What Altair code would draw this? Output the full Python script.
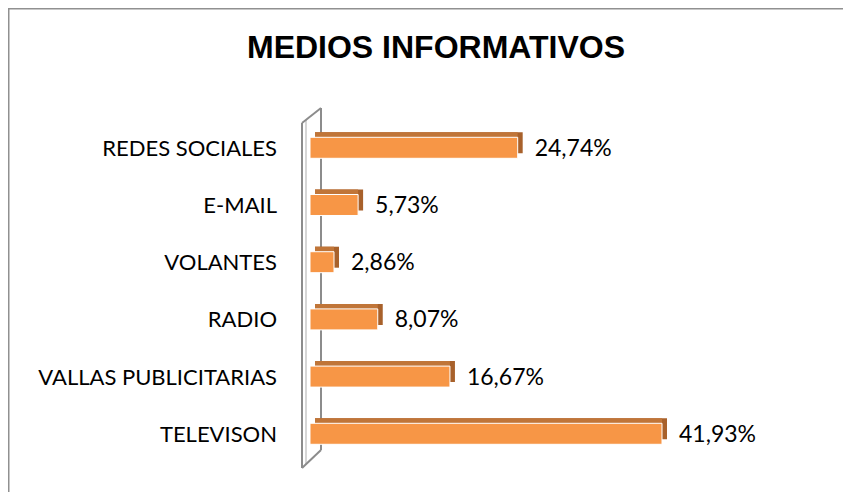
import altair as alt
import pandas as pd

categories = ["REDES SOCIALES", "E-MAIL", "VOLANTES", "RADIO", "VALLAS PUBLICITARIAS", "TELEVISON"]
values = [24.74, 5.73, 2.86, 8.07, 16.67, 41.93]
labels = ["24,74%", "5,73%", "2,86%", "8,07%", "16,67%", "41,93%"]
title_text = "MEDIOS INFORMATIVOS"

df = pd.DataFrame({"cat": categories, "value": values, "label": labels, "start": [0] * len(values)})

W, H = 835, 484
FONT = "Lato"
D = 5  # 3D depth in px

xs = alt.Scale(domain=[0, 50], range=[302, 302 + 8.395 * 50])
ys = alt.Scale(domain=categories, range=[111.2, 454.4], paddingInner=0.633, paddingOuter=0.3165)

X0 = alt.X("start:Q", scale=xs, axis=None)
XV = alt.X("value:Q", scale=xs, axis=None)
Y = alt.Y("cat:N", scale=ys, axis=None, sort=categories)

base = alt.Chart(df)

side = base.mark_bar(color="#a8612b", xOffset=D, x2Offset=D, yOffset=-D, y2Offset=-D).encode(
    x=X0, x2="value:Q", y=Y)
top = base.mark_bar(color="#c07538", xOffset=D, x2Offset=0, yOffset=-D, y2Offset=-D).encode(
    x=X0, x2="value:Q", y=Y)
front = base.mark_bar(color="#f79646", stroke="white", strokeWidth=1).encode(
    x=X0, x2="value:Q", y=Y)

vals = base.mark_text(align="left", baseline="middle", dx=17, dy=1, font=FONT, fontSize=23, color="#000000").encode(
    x=XV, y=Y, text="label:N")
cats = base.mark_text(align="right", baseline="middle", dx=-33, dy=1, font=FONT, fontSize=22, color="#000000").encode(
    x=X0, y=Y, text="cat:N")

one = alt.Data(values=[{"t": title_text}])
title = alt.Chart(one).mark_text(align="center", baseline="middle", font="Liberation Sans", fontSize=32,
                                 fontWeight="bold", color="#000000").encode(
    x=alt.value(428), y=alt.value(40), text="t:N")

frame_col = "#8c8c8c"
def rule(x, y, x2, y2, color=frame_col, w=1.5):
    return alt.Chart(alt.Data(values=[{"a": 0}])).mark_rule(color=color, strokeWidth=w).encode(
        x=alt.value(x), y=alt.value(y), x2=alt.value(x2), y2=alt.value(y2))

border = [rule(0, 0.75, W, 0.75, "#909090", 1.5), rule(0.75, 0, 0.75, H, "#909090", 1.5)]
wall = [
    rule(298, 112, 298, 457, "#c8c8c8", 1.5),
    rule(294, 115, 294, 460, frame_col, 2),
    rule(313, 100, 313, 442, frame_col, 2),
    rule(294, 115, 313, 100, frame_col, 2),
    rule(294, 460, 313, 442, frame_col, 2),
]

chart = alt.layer(*border, *wall, side, top, front, vals, cats, title).properties(
    width=W, height=H, autosize=alt.AutoSizeParams(type="none"), padding=0
).configure_view(stroke=None).configure(background="white")

chart.save("out.html", embed_options={"renderer": "svg", "actions": False})
